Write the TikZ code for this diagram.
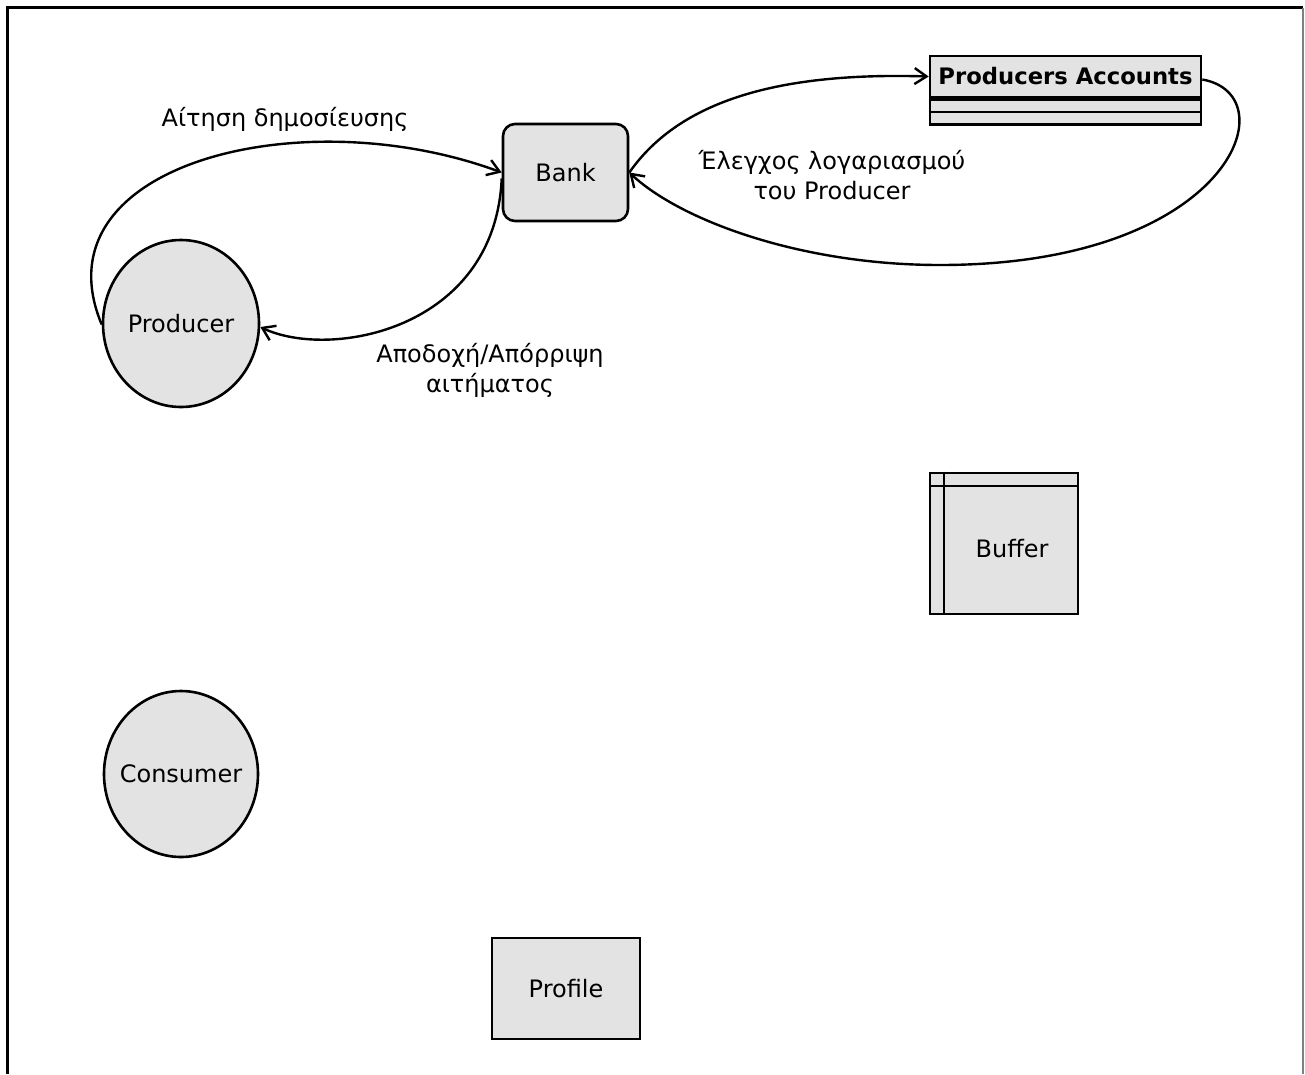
\documentclass[tikz,border=0pt]{standalone}
\usepackage{fontspec}
\setmainfont{DejaVu Sans}
\usetikzlibrary{arrows.meta,shapes.geometric}

\definecolor{boxfill}{RGB}{227,227,227}

\begin{document}
\begin{tikzpicture}[x=1pt,y=-1pt,
  every node/.style={font=\fontsize{24}{30}\selectfont},
  shapebox/.style={draw, line width=2.6pt, fill=boxfill, inner sep=0pt},
  procbox/.style={shapebox, ellipse},
  storebox/.style={shapebox, rectangle},
  flow/.style={line width=2.4pt, -{Straight Barb[length=12pt,width=16pt,line width=2.4pt]}},
  lbl/.style={inner sep=0pt, align=center}
]
\useasboundingbox (0,0) rectangle (1305,1074);

% page frame
\draw[line width=3pt] (7.5,1074) -- (7.5,7.5) -- (1303,7.5);
\draw[gray, line width=1.5pt] (1303,7.5) -- (1303,1074);

% processes
\node[procbox, minimum width=156pt, minimum height=167pt, label=center:Producer] (producer) at (181,323.5) {};
\node[procbox, minimum width=154pt, minimum height=166pt, label=center:Consumer] (consumer) at (181,774) {};

% bank
\node[storebox, rounded corners=12pt, minimum width=125pt, minimum height=97pt, label=center:Bank] (bank) at (565.5,172.5) {};

% producers accounts table
\node[storebox, minimum width=271pt, minimum height=41pt, font=\fontsize{22.7}{28}\selectfont\bfseries] (pa) at (1065.5,76.5) {Producers Accounts};
\node[storebox, minimum width=271pt, minimum height=25pt, anchor=north] (pafields) at (pa.south) {};
\draw[line width=2.6pt] (pafields.west) -- (pafields.east);

% buffer
\node[storebox, minimum width=148pt, minimum height=141pt] (buffer) at (1004,543.5) {};
\draw[line width=2.4pt] ([xshift=15pt]buffer.north west) -- ([xshift=15pt]buffer.south west);
\draw[line width=2.4pt] ([yshift=-14pt]buffer.north west) -- ([yshift=-14pt]buffer.north east);
\node[inner sep=0pt] (buffertext) at (1012,549) {Buffer};

% profile
\node[storebox, minimum width=148pt, minimum height=101pt, label=center:Profile] (profile) at (566,988.5) {};

% flows
\draw[flow] ([yshift=-1pt]producer.west) .. controls (35,165) and (300,98) .. (bank.west);
\draw[flow] ([yshift=-6pt]bank.west) .. controls (495,330) and (330,360) .. ([yshift=-3.5pt]producer.east);
\draw[flow] (bank.east) .. controls (680,100) and (780,72) .. (pa.west);
\draw[flow] ([yshift=-3pt]pa.east) .. controls (1290,95) and (1230,265) .. (940,265)
            .. controls (800,265) and (680,220) .. (bank.east);

% flow labels
\node[lbl] (l1) at (285,119) {Αίτηση δημοσίευσης};
\node[lbl] (l2) at (832,175) {Έλεγχος λογαριασμού\\του Producer};
\node[lbl] (l3) at (490,370) {Αποδοχή/Απόρριψη\\αιτήματος};
\end{tikzpicture}
\end{document}
